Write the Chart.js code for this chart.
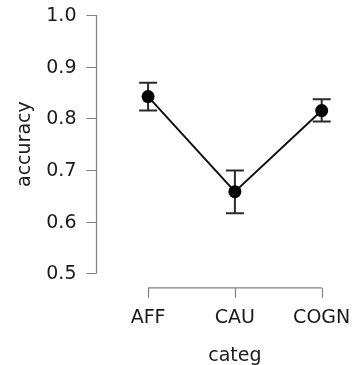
<!DOCTYPE html>
<html>
<head>
<meta charset="utf-8">
<script src="https://cdn.jsdelivr.net/npm/chart.js@4"></script>
<style>
html,body{margin:0;padding:0;background:#fff;}
canvas{display:block;}
</style>
</head>
<body>
<canvas id="c" width="353" height="365"></canvas>
<script>
const categories = ['AFF', 'CAU', 'COGN'];
const accuracy = [0.842, 0.658, 0.815];
const errLow = [0.815, 0.616, 0.794];
const errHigh = [0.869, 0.699, 0.837];
const yTicks = [0.5, 0.6, 0.7, 0.8, 0.9, 1.0];
const xTitle = 'categ';
const yTitle = 'accuracy';

const FONT = '19px "DejaVu Sans", Verdana, sans-serif';
const AXIS_COLOR = '#808080';
const TEXT_COLOR = '#1a1a1a';

const errorBars = {
  id: 'errorBars',
  beforeDatasetsDraw(chart) {
    const ctx = chart.ctx, xs = chart.scales.x, ys = chart.scales.y;
    ctx.save();
    ctx.strokeStyle = '#2a2a2a';
    ctx.lineWidth = 2;
    categories.forEach((c, i) => {
      const x = xs.getPixelForValue(i);
      const yl = ys.getPixelForValue(errLow[i]);
      const yh = ys.getPixelForValue(errHigh[i]);
      ctx.beginPath();
      ctx.moveTo(x, yl); ctx.lineTo(x, yh);
      ctx.moveTo(x - 9, yl); ctx.lineTo(x + 9, yl);
      ctx.moveTo(x - 9, yh); ctx.lineTo(x + 9, yh);
      ctx.stroke();
    });
    ctx.restore();
  }
};

const axes = {
  id: 'customAxes',
  afterDraw(chart) {
    const ctx = chart.ctx, xs = chart.scales.x, ys = chart.scales.y;
    ctx.save();
    ctx.strokeStyle = AXIS_COLOR;
    ctx.lineWidth = 1.2;
    // y axis
    const ax = Math.round(chart.chartArea.left) + 0.5;
    const yTop = ys.getPixelForValue(yTicks[yTicks.length - 1]);
    const yBot = ys.getPixelForValue(yTicks[0]);
    ctx.beginPath();
    ctx.moveTo(ax, yTop); ctx.lineTo(ax, yBot);
    yTicks.forEach(v => {
      const y = Math.round(ys.getPixelForValue(v)) + 0.5;
      ctx.moveTo(ax - 10, y); ctx.lineTo(ax, y);
    });
    ctx.stroke();
    ctx.fillStyle = TEXT_COLOR;
    ctx.font = FONT;
    ctx.textAlign = 'right';
    ctx.textBaseline = 'middle';
    yTicks.forEach(v => {
      ctx.fillText(v.toFixed(1), ax - 20, ys.getPixelForValue(v) + 1);
    });
    // x axis (offset below)
    const xy = yBot + 14.5;
    const x0 = xs.getPixelForValue(0), x2 = xs.getPixelForValue(categories.length - 1);
    ctx.beginPath();
    ctx.moveTo(x0, xy); ctx.lineTo(x2, xy);
    categories.forEach((c, i) => {
      const x = Math.round(xs.getPixelForValue(i)) + 0.5;
      ctx.moveTo(x, xy); ctx.lineTo(x, xy + 10);
    });
    ctx.stroke();
    ctx.textAlign = 'center';
    ctx.textBaseline = 'alphabetic';
    categories.forEach((c, i) => {
      ctx.fillText(c, xs.getPixelForValue(i), 323);
    });
    ctx.fillText(xTitle, (x0 + x2) / 2, 361);
    // y title
    ctx.save();
    ctx.translate(30, (yTop + yBot) / 2);
    ctx.rotate(-Math.PI / 2);
    ctx.textAlign = 'center';
    ctx.textBaseline = 'alphabetic';
    ctx.fillText(yTitle, 0, 0);
    ctx.restore();
    ctx.restore();
  }
};

new Chart(document.getElementById('c'), {
  type: 'line',
  data: {
    datasets: [{
      data: accuracy.map((v, i) => ({x: i, y: v})),
      borderColor: '#111',
      borderWidth: 2,
      pointRadius: 6.5,
      pointBackgroundColor: '#000',
      pointBorderWidth: 0,
      pointHoverRadius: 6.5,
      clip: false,
      tension: 0
    }]
  },
  options: {
    responsive: false,
    animation: false,
    devicePixelRatio: 1,
    events: [],
    layout: { padding: { left: 96, top: 15, right: 31.3, bottom: 91.7 } },
    plugins: { legend: { display: false }, tooltip: { enabled: false } },
    scales: {
      x: { type: 'linear', min: -0.6, max: 2, display: false },
      y: { type: 'linear', min: 0.5, max: 1.0, display: false }
    }
  },
  plugins: [errorBars, axes]
});
</script>
</body>
</html>
